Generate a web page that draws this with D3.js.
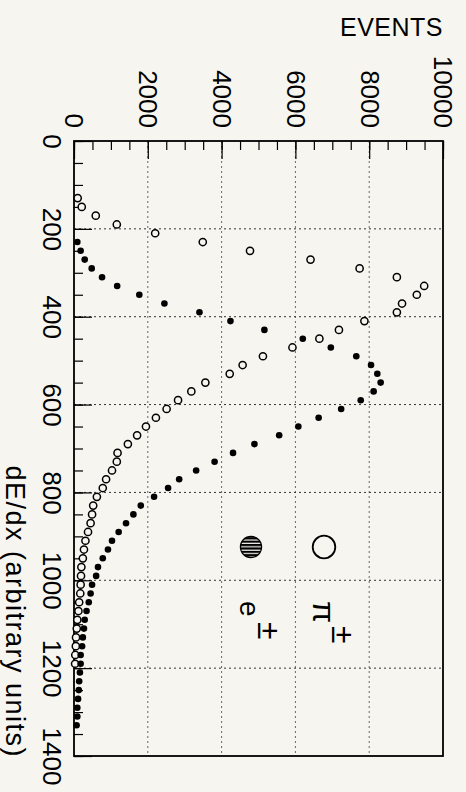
<!DOCTYPE html>
<html>
<head>
<meta charset="utf-8">
<script src="https://cdn.jsdelivr.net/npm/d3@7"></script>
<style>
  html, body { margin: 0; padding: 0; background: #f6f5ef; }
  svg { display: block; }
  text { font-family: "Liberation Sans", Arial, sans-serif; fill: #000; }
</style>
</head>
<body>
<svg id="chart" width="466" height="792"></svg>
<script>
// dE/dx bin centres (arbitrary units) and event counts per bin
const dedxPion = [130,150,170,190,210,230,250,270,290,310,330,350,370,390,410,430,450,470,490,510,
  530,550,570,590,610,630,650,670,690,710,730,750,770,790,810,830,850,870,890,910,
  930,950,970,990,1010,1030,1050,1070,1090,1110,1130,1150,1170,1190];
const eventsPion = [100,210,590,1160,2200,3490,4770,6410,7740,8750,9490,9290,8890,8750,7870,7180,6650,5920,5120,4570,
  4220,3560,3180,2820,2510,2220,1950,1710,1460,1180,1160,1030,870,780,620,520,490,450,380,310,
  270,240,200,190,180,170,140,120,90,75,55,50,35,30];

const dedxElectron = [230,250,270,290,310,330,350,370,390,410,430,450,470,490,510,530,550,570,590,610,
  630,650,670,690,710,730,750,770,790,810,830,850,870,890,910,930,950,970,990,1010,
  1030,1050,1070,1090,1110,1130,1150,1170,1190,1210,1230,1250,1270,1290,1310,1330];
const eventsElectron = [90,180,290,480,760,1170,1770,2450,3400,4240,5160,6200,6960,7650,8050,8220,8310,8120,7770,7240,
  6630,6080,5560,4890,4310,3810,3310,2850,2550,2170,1810,1610,1410,1210,1030,920,780,650,600,490,
  450,400,340,290,270,240,220,180,180,160,140,130,110,90,90,70];

const eventTicksMajor = [0,2000,4000,6000,8000,10000];
const eventTicksMinor = d3.range(0, 10001, 500);
const dedxTicksMajor = [0,200,400,600,800,1000,1200,1400];
const dedxTicksMinor = d3.range(0, 1401, 50);
const eventGrid = [2000,4000,6000,8000];
const dedxGrid = [200,400,600,800,1000,1200];

const svg = d3.select("#chart");

// Events run left to right, dE/dx runs top to bottom
const x = d3.scaleLinear().domain([0, 10000]).range([74, 443]);
const y = d3.scaleLinear().domain([0, 1400]).range([141, 756]);

// hatch pattern for the electron legend marker
const defs = svg.append("defs");
const pat = defs.append("pattern").attr("id", "hatch")
  .attr("patternUnits", "userSpaceOnUse").attr("width", 8).attr("height", 3.4);
pat.append("rect").attr("width", 8).attr("height", 3.4).attr("fill", "#f6f5ef");
pat.append("rect").attr("width", 8).attr("height", 2.2).attr("fill", "#000");

// dotted grid
const grid = svg.append("g").attr("stroke", "#333").attr("stroke-width", 1)
  .attr("stroke-dasharray", "2 3").attr("fill", "none");
grid.selectAll("line.v").data(eventGrid).join("line").attr("class", "v")
  .attr("x1", d => x(d)).attr("x2", d => x(d)).attr("y1", y(0)).attr("y2", y(1400))
  .attr("stroke", "#666");
grid.selectAll("line.h").data(dedxGrid).join("line").attr("class", "h")
  .attr("x1", x(0)).attr("x2", x(10000)).attr("y1", d => y(d)).attr("y2", d => y(d));

// event axis along the top, ticks pointing into the frame
const topMinor = svg.append("g").attr("transform", `translate(0,${y(0)})`)
  .call(d3.axisTop(x).tickValues(eventTicksMinor).tickSize(-9).tickSizeOuter(0).tickFormat(""));
const topMajor = svg.append("g").attr("transform", `translate(0,${y(0)})`)
  .call(d3.axisTop(x).tickValues(eventTicksMajor).tickSize(-18).tickSizeOuter(0).tickFormat(d3.format("d")));
[topMinor, topMajor].forEach(g => {
  g.select(".domain").remove();
  g.selectAll(".tick line").attr("stroke", "#000").attr("stroke-width", 1.2);
});
topMajor.selectAll(".tick text")
  .attr("x", 0).attr("y", 0).attr("dy", "0.35em")
  .attr("font-size", 26).attr("font-family", "Liberation Sans, Arial, sans-serif")
  .attr("text-anchor", "end").attr("fill", "#000")
  .attr("transform", "translate(0,-13) rotate(90)");

// dE/dx axis along the left side
const leftMinor = svg.append("g").attr("transform", `translate(${x(0)},0)`)
  .call(d3.axisLeft(y).tickValues(dedxTicksMinor).tickSize(-9).tickSizeOuter(0).tickFormat(""));
const leftMajor = svg.append("g").attr("transform", `translate(${x(0)},0)`)
  .call(d3.axisLeft(y).tickValues(dedxTicksMajor).tickSize(-18).tickSizeOuter(0).tickFormat(d3.format("d")));
[leftMinor, leftMajor].forEach(g => {
  g.select(".domain").remove();
  g.selectAll(".tick line").attr("stroke", "#000").attr("stroke-width", 1.2);
});
leftMajor.selectAll(".tick text")
  .attr("x", 0).attr("y", 0).attr("dy", "0.35em")
  .attr("font-size", 26).attr("font-family", "Liberation Sans, Arial, sans-serif")
  .attr("text-anchor", "middle").attr("fill", "#000")
  .attr("transform", "translate(-22,0) rotate(90)");

// frame
svg.append("rect").attr("x", x(0)).attr("y", y(0))
  .attr("width", x(10000) - x(0)).attr("height", y(1400) - y(0))
  .attr("fill", "none").attr("stroke", "#000").attr("stroke-width", 1.8);

// pion points: open circles
const pion = dedxPion.map((d, i) => ({ dedx: d, n: eventsPion[i] }));
svg.append("g").selectAll("circle").data(pion).join("circle")
  .attr("cx", d => x(d.n)).attr("cy", d => y(d.dedx)).attr("r", 3.6)
  .attr("fill", "#f6f5ef").attr("stroke", "#000").attr("stroke-width", 1.5);

// electron points: filled circles
const electron = dedxElectron.map((d, i) => ({ dedx: d, n: eventsElectron[i] }));
svg.append("g").selectAll("circle").data(electron).join("circle")
  .attr("cx", d => x(d.n)).attr("cy", d => y(d.dedx)).attr("r", 3.3)
  .attr("fill", "#000");

// axis titles
svg.append("text").attr("x", 443).attr("y", 36).attr("text-anchor", "end")
  .attr("font-size", 25).attr("letter-spacing", 0.5).text("EVENTS");
svg.append("text").attr("transform", "translate(15,758) rotate(90)")
  .attr("dy", "0.35em").attr("text-anchor", "end").attr("font-size", 27)
  .attr("letter-spacing", 1.5)
  .text("dE/dx (arbitrary units)");

// legend
const legend = svg.append("g");
legend.append("circle").attr("cx", 324).attr("cy", 547).attr("r", 11.3)
  .attr("fill", "none").attr("stroke", "#000").attr("stroke-width", 1.8);
legend.append("circle").attr("cx", 251).attr("cy", 547).attr("r", 10.6)
  .attr("fill", "url(#hatch)").attr("stroke", "#000").attr("stroke-width", 1.2);
legend.append("text").attr("transform", "translate(313,601) rotate(90)")
  .attr("font-size", 32).text("π");
legend.append("text").attr("transform", "translate(332,626) rotate(90)")
  .attr("font-size", 32).text("±");
legend.append("text").attr("transform", "translate(240,601) rotate(90)")
  .attr("font-size", 28).text("e");
legend.append("text").attr("transform", "translate(258,622) rotate(90)")
  .attr("font-size", 32).text("±");
</script>
</body>
</html>
